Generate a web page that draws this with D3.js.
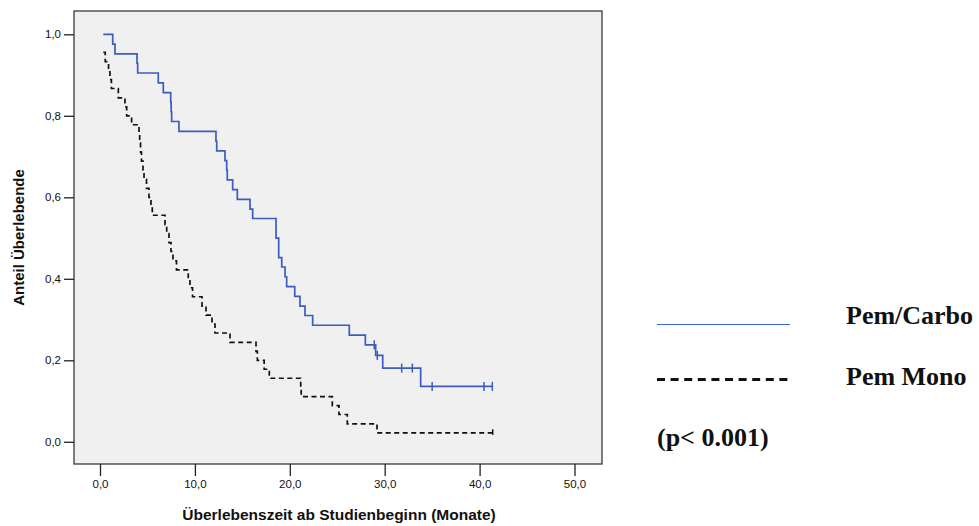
<!DOCTYPE html>
<html>
<head>
<meta charset="utf-8">
<script src="https://cdn.jsdelivr.net/npm/d3@7"></script>
<style>
  html, body { margin: 0; padding: 0; background: #ffffff; }
  svg { display: block; }
</style>
</head>
<body>
<svg id="chart" width="979" height="526"></svg>
<script>
// Kaplan-Meier survival: Pem/Carbo vs. Pem Mono
const groups = ["Pem/Carbo", "Pem Mono"];

// Pem/Carbo: start time, event times and survival after each event, censored times
const carboStart = 0.35;
const carboTimes = [1.34, 1.58, 3.90, 3.97, 6.14, 6.67, 7.45, 7.50, 7.55, 8.32,
  12.22, 12.30, 13.17, 13.35, 13.41, 13.98, 14.47, 15.81, 16.09, 18.55,
  18.83, 19.15, 19.50, 19.67, 20.52, 21.07, 21.60, 22.41, 26.27, 27.96,
  29.05, 29.79, 33.79];
const carboSurv = [0.976, 0.952, 0.929, 0.905, 0.881, 0.857, 0.833, 0.810, 0.786, 0.762,
  0.738, 0.714, 0.690, 0.667, 0.643, 0.619, 0.595, 0.571, 0.548, 0.500,
  0.452, 0.429, 0.405, 0.381, 0.357, 0.333, 0.310, 0.286, 0.262, 0.238,
  0.212, 0.181, 0.136];
const carboCensored = [28.90, 29.22, 31.79, 32.91, 35.00, 40.46, 41.34];

// Pem Mono
const monoStart = 0.35;
const monoStartSurv = 0.956;
const monoTimes = [0.55, 0.90, 1.05, 1.20, 1.93, 2.63, 2.81, 3.33, 4.11, 4.18,
  4.27, 4.37, 4.53, 4.64, 4.90, 5.16, 5.37, 5.51, 6.85, 7.03,
  7.27, 7.48, 7.69, 8.06, 9.30, 9.48, 9.75, 10.75, 11.17, 11.80,
  12.12, 13.70, 16.44, 16.58, 17.30, 17.84, 21.15, 21.20, 24.48, 25.18,
  26.06, 29.19];
const monoSurv = [0.933, 0.911, 0.889, 0.867, 0.844, 0.822, 0.800, 0.778, 0.756, 0.733,
  0.711, 0.689, 0.667, 0.644, 0.622, 0.600, 0.578, 0.556, 0.533, 0.511,
  0.489, 0.467, 0.444, 0.422, 0.400, 0.378, 0.356, 0.333, 0.311, 0.289,
  0.267, 0.244, 0.222, 0.200, 0.178, 0.156, 0.133, 0.111, 0.089, 0.067,
  0.044, 0.022];
const monoCensored = [41.38];

const xTicks = [0, 10, 20, 30, 40, 50];
const yTicks = [0, 0.2, 0.4, 0.6, 0.8, 1.0];

const xTitle = "Überlebenszeit ab Studienbeginn (Monate)";
const yTitle = "Anteil Überlebende";
const pText = "(p< 0.001)";

// ---- layout ----
const frame = { left: 74, right: 602, top: 11, bottom: 464 };
const x = d3.scaleLinear().domain([0, 50]).range([100, 574.5]);
const y = d3.scaleLinear().domain([0, 1]).range([441.8, 34.3]);

const blue = "#3d5cbf";
const sans = "'Liberation Sans', Arial, sans-serif";
const svg = d3.select("#chart");
const fmt = v => d3.format(".1f")(v).replace(".", ",");

// plot background and frame
svg.append("rect")
  .attr("x", frame.left).attr("y", frame.top)
  .attr("width", frame.right - frame.left).attr("height", frame.bottom - frame.top)
  .attr("fill", "#f0f0f0").attr("stroke", "#3a3a3a").attr("stroke-width", 1.3);

// axes
const xAxis = d3.axisBottom(x).tickValues(xTicks).tickFormat(fmt).tickSizeInner(12).tickSizeOuter(0).tickPadding(4);
const gx = svg.append("g").attr("transform", `translate(0,${frame.bottom})`).call(xAxis);
gx.select(".domain").remove();
gx.selectAll("line").attr("stroke", "#222").attr("stroke-width", 1.3);
gx.selectAll("text").attr("font-family", sans).attr("font-size", 11.5).attr("fill", "#111");

const yAxis = d3.axisLeft(y).tickValues(yTicks).tickFormat(fmt).tickSizeInner(10).tickSizeOuter(0).tickPadding(3);
const gy = svg.append("g").attr("transform", `translate(${frame.left},0)`).call(yAxis);
gy.select(".domain").remove();
gy.selectAll("line").attr("stroke", "#222").attr("stroke-width", 1.3);
gy.selectAll("text").attr("font-family", sans).attr("font-size", 11.5).attr("fill", "#111");

// axis titles
svg.append("text")
  .attr("x", 339).attr("y", 520)
  .attr("text-anchor", "middle")
  .attr("font-family", sans).attr("font-weight", "bold").attr("font-size", 15.5)
  .attr("fill", "#111").text(xTitle);

svg.append("text")
  .attr("transform", `translate(24,${(frame.top + frame.bottom) / 2}) rotate(-90)`)
  .attr("text-anchor", "middle")
  .attr("font-family", sans).attr("font-weight", "bold").attr("font-size", 15)
  .attr("fill", "#111").text(yTitle);

// survival step curves
const stepLine = d3.line().x(d => x(d[0])).y(d => y(d[1])).curve(d3.curveStepAfter);

function curvePoints(t0, s0, times, surv, tEnd) {
  const pts = [[t0, s0]];
  times.forEach((t, i) => pts.push([t, surv[i]]));
  pts.push([tEnd, surv[surv.length - 1]]);
  return pts;
}

function survivalAt(t, t0, s0, times, surv) {
  let s = s0;
  times.forEach((tt, i) => { if (tt <= t) s = surv[i]; });
  return s;
}

const carboPts = curvePoints(carboStart, 1.0, carboTimes, carboSurv, d3.max(carboCensored));
const monoPts = curvePoints(monoStart, monoStartSurv, monoTimes, monoSurv, d3.max(monoCensored));

svg.append("path").datum(monoPts)
  .attr("d", stepLine).attr("fill", "none")
  .attr("stroke", "#111").attr("stroke-width", 1.7).attr("stroke-dasharray", "5,3.5");

svg.append("path").datum(carboPts)
  .attr("d", stepLine).attr("fill", "none")
  .attr("stroke", blue).attr("stroke-width", 1.7);

// censoring marks
svg.append("g").selectAll("line").data(carboCensored).join("line")
  .attr("x1", d => x(d)).attr("x2", d => x(d))
  .attr("y1", d => y(survivalAt(d, carboStart, 1.0, carboTimes, carboSurv)) - 4.5)
  .attr("y2", d => y(survivalAt(d, carboStart, 1.0, carboTimes, carboSurv)) + 4.5)
  .attr("stroke", blue).attr("stroke-width", 1.5);

svg.append("g").selectAll("line").data(monoCensored).join("line")
  .attr("x1", d => x(d)).attr("x2", d => x(d))
  .attr("y1", d => y(survivalAt(d, monoStart, monoStartSurv, monoTimes, monoSurv)) - 3.5)
  .attr("y2", d => y(survivalAt(d, monoStart, monoStartSurv, monoTimes, monoSurv)) + 2)
  .attr("stroke", "#111").attr("stroke-width", 1.5);

// legend
const legend = svg.append("g");
legend.append("line")
  .attr("x1", 657).attr("x2", 790).attr("y1", 324.5).attr("y2", 324.5)
  .attr("stroke", "#3a66e0").attr("stroke-width", 1.2);
legend.append("line")
  .attr("x1", 657).attr("x2", 790).attr("y1", 379.5).attr("y2", 379.5)
  .attr("stroke", "#111").attr("stroke-width", 3).attr("stroke-dasharray", "8,5.6");

const legendFont = "'Liberation Serif', 'Times New Roman', serif";
legend.selectAll("text.grp").data(groups).join("text")
  .attr("class", "grp")
  .attr("x", 846).attr("y", (d, i) => 323.5 + i * 61.5)
  .attr("font-family", legendFont).attr("font-weight", "bold").attr("font-size", 26)
  .attr("fill", "#111").text(d => d);
legend.append("text")
  .attr("x", 657).attr("y", 446)
  .attr("font-family", legendFont).attr("font-weight", "bold").attr("font-size", 26)
  .attr("fill", "#111").text(pText);
</script>
</body>
</html>
